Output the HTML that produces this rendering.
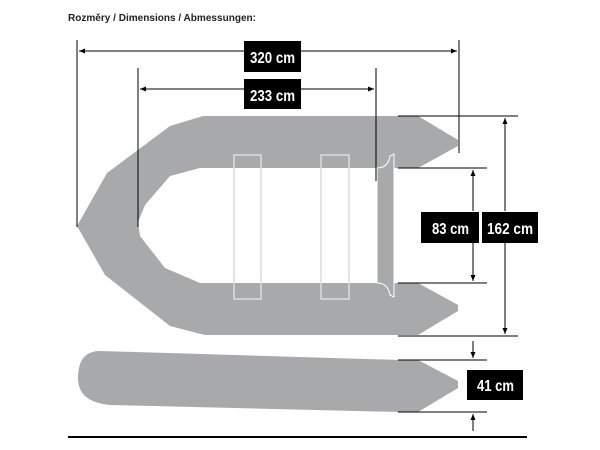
<!DOCTYPE html>
<html><head><style>
html,body{margin:0;padding:0;background:#fff;}
svg{display:block;}
text{font-family:"Liberation Sans",sans-serif;font-weight:bold;}
</style></head><body>
<svg width="600" height="450" viewBox="0 0 600 450" xmlns="http://www.w3.org/2000/svg">
<defs>
<marker id="a" markerWidth="6" markerHeight="6" refX="6" refY="3" orient="auto" markerUnits="userSpaceOnUse"><path d="M0,0.5 L6,3 L0,5.5 Z" fill="#000"/></marker>
</defs>
<text x="68" y="21" font-size="10.5" fill="#222" textLength="188" lengthAdjust="spacingAndGlyphs">Rozměry / Dimensions / Abmessungen:</text>
<!-- boat top -->
<path d="M203,116 L418,116 L458,140 L458,146 L418,168 L200,168 L170,176 L145,205 L138,222 L140,236 L165,268 L200,283 L418,283 L458,305 L458,311 L418,335 L205,335 L170,326 L105,275 L77,226 L107,173 L170,126 Z" fill="#a8a9ab"/>
<!-- transom -->
<path d="M377,168 Q388,168 390,156 L394,154 L394,297 L390,295 Q388,283 377,283 Z" fill="#a8a9ab" stroke="#fff" stroke-width="1"/>
<!-- seats -->
<rect x="234" y="155" width="27" height="144" fill="none" stroke="#dcdcdc" stroke-width="1.5"/>
<rect x="321" y="155" width="28" height="144" fill="none" stroke="#dcdcdc" stroke-width="1.5"/>
<!-- bottom tube -->
<path d="M100,351 L400,360 L418,360 L458,381 L458,388 L418,412 L400,412 L110,405 Q78,402 78,378 Q78,351 100,351 Z" fill="#a8a9ab"/>
<g stroke="#000" stroke-width="1" fill="none">
<line x1="77" y1="40" x2="77" y2="227"/>
<line x1="459" y1="40" x2="459" y2="153"/>
<line x1="244" y1="51" x2="79" y2="51" marker-end="url(#a)"/>
<line x1="301" y1="51" x2="457" y2="51" marker-end="url(#a)"/>
<line x1="138" y1="68" x2="138" y2="227"/>
<line x1="376" y1="68" x2="376" y2="181"/>
<line x1="244" y1="89" x2="140" y2="89" marker-end="url(#a)"/>
<line x1="301" y1="89" x2="374" y2="89" marker-end="url(#a)"/>
<line x1="398" y1="116" x2="518" y2="116"/>
<line x1="398" y1="336" x2="518" y2="336"/>
<line x1="398" y1="168" x2="487" y2="168"/>
<line x1="398" y1="283" x2="487" y2="283"/>
<line x1="505" y1="211" x2="505" y2="118" marker-end="url(#a)"/>
<line x1="505" y1="242" x2="505" y2="334" marker-end="url(#a)"/>
<line x1="473" y1="211" x2="473" y2="170" marker-end="url(#a)"/>
<line x1="473" y1="242" x2="473" y2="281" marker-end="url(#a)"/>
<line x1="398" y1="360" x2="487" y2="360"/>
<line x1="398" y1="412" x2="487" y2="412"/>
<line x1="473" y1="341" x2="473" y2="358" marker-end="url(#a)"/>
<line x1="473" y1="431" x2="473" y2="414" marker-end="url(#a)"/>
</g>
<line x1="68" y1="437" x2="527" y2="437" stroke="#000" stroke-width="2"/>
<g fill="#000">
<rect x="244" y="41" width="57" height="31"/>
<rect x="244" y="79" width="57" height="30"/>
<rect x="421" y="212" width="58" height="31"/>
<rect x="482" y="212" width="56" height="31"/>
<rect x="467" y="370" width="56" height="30"/>
</g>
<g fill="#fff" font-size="16" lengthAdjust="spacingAndGlyphs">
<text x="250" y="63" textLength="45" lengthAdjust="spacingAndGlyphs">320 cm</text>
<text x="250" y="101" textLength="45" lengthAdjust="spacingAndGlyphs">233 cm</text>
<text x="432" y="234" textLength="37" lengthAdjust="spacingAndGlyphs">83 cm</text>
<text x="487" y="234" textLength="46" lengthAdjust="spacingAndGlyphs">162 cm</text>
<text x="477" y="391" textLength="37" lengthAdjust="spacingAndGlyphs">41 cm</text>
</g>
</svg>
</body></html>
